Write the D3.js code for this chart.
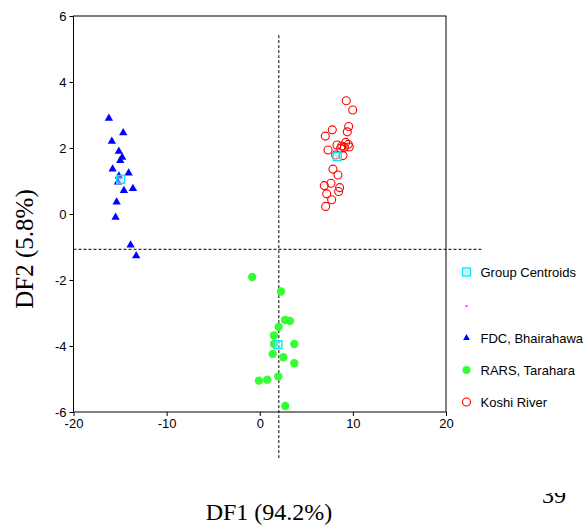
<!doctype html>
<html lang="en">
<head>
<meta charset="UTF-8">
<title>DF1 vs DF2</title>
<style>
    body { margin: 0; background: #fff; }
    svg { display: block; }
    .tick text { font-family: "Liberation Sans", Arial, sans-serif; font-size: 13px; fill: #000; }
    .ttl { font-family: "Liberation Serif", "Times New Roman", serif; font-size: 24px; fill: #000; }
    .leg { font-family: "Liberation Sans", Arial, sans-serif; font-size: 13px; fill: #000; }
</style>
</head>
<body>
<svg id="chart" width="588" height="526"></svg>
<script src="https://cdn.jsdelivr.net/npm/d3@7/dist/d3.min.js"></script>
<script>
// discriminant scores: [DF1, DF2]
var fdc = [
    [-16.2, 2.90], [-14.66, 2.46], [-15.88, 2.20], [-15.13, 1.90], [-14.77, 1.72],
    [-14.98, 1.62], [-15.80, 1.36], [-14.08, 1.24], [-15.12, 1.15], [-15.23, 0.97],
    [-14.59, 0.71], [-13.62, 0.77], [-15.37, 0.36], [-15.48, -0.10], [-13.87, -0.94],
    [-13.27, -1.27]
]
var rars = [
    [-0.81, -1.91], [2.28, -2.35], [2.71, -3.21], [3.24, -3.24], [2.03, -3.42],
    [1.53, -3.68], [1.53, -3.94], [3.71, -3.94], [1.39, -4.24], [2.52, -4.34],
    [3.71, -4.52], [1.99, -4.92], [0.81, -5.02], [-0.09, -5.05], [2.74, -5.82]
]
var koshi = [
    [9.29, 3.43], [9.98, 3.15], [9.55, 2.65], [7.79, 2.55], [9.40, 2.49],
    [7.04, 2.36], [9.23, 2.17], [8.29, 2.09], [8.80, 2.06], [9.51, 2.11],
    [9.61, 2.03], [8.69, 1.99], [9.08, 2.02], [7.33, 1.94], [8.15, 1.79],
    [8.94, 1.77], [7.86, 1.36], [8.40, 1.18], [6.93, 0.86], [7.65, 0.93],
    [8.58, 0.80], [8.47, 0.68], [7.19, 0.61], [7.72, 0.43], [7.08, 0.23]
]
var centroids = [[-14.94, 1.05], [1.95, -3.96], [8.32, 1.74]]

var xTicks = [-20, -10, 0, 10, 20]
var yTicks = [-6, -4, -2, 0, 2, 4, 6]
var legendLabels = ['Group Centroids', '', 'FDC, Bhairahawa', 'RARS, Tarahara', 'Koshi River']

// cut lines (territory borders)
var vLine = { x: 2.05, y0: 5.42, y1: -7.4 }
var hLine = { y: -1.07, x0: -20, x1: 23.8 }

var svg = d3.select('#chart')

var x = d3.scaleLinear().domain([-20, 20]).range([73.5, 446])
var y = d3.scaleLinear().domain([-6, 6]).range([412, 16])

// plain hyphen, like the original (d3 uses a unicode minus)
var fmt = function(d) { return String(d) }

// frame
svg.append('rect')
    .attr('x', x(-20)).attr('y', y(6))
    .attr('width', x(20) - x(-20)).attr('height', y(-6) - y(6))
    .attr('fill', 'none').attr('stroke', '#000').attr('stroke-width', 1)

svg.append('g')
    .attr('transform', 'translate(0,' + y(-6) + ')')
    .call(d3.axisBottom(x).tickValues(xTicks).tickSize(4).tickPadding(3).tickFormat(fmt))
    .call(function(g) { g.select('.domain').remove() })

svg.append('g')
    .attr('transform', 'translate(' + x(-20) + ',0)')
    .call(d3.axisLeft(y).tickValues(yTicks).tickSize(4).tickPadding(3).tickFormat(fmt))
    .call(function(g) { g.select('.domain').remove() })

// dashed cut lines
svg.append('line')
    .attr('x1', x(vLine.x)).attr('x2', x(vLine.x))
    .attr('y1', y(vLine.y0)).attr('y2', y(vLine.y1))
    .attr('stroke', '#000').attr('stroke-dasharray', '3,2')
svg.append('line')
    .attr('x1', x(hLine.x0)).attr('x2', x(hLine.x1))
    .attr('y1', y(hLine.y)).attr('y2', y(hLine.y))
    .attr('stroke', '#000').attr('stroke-dasharray', '3,2')

var tri = d3.symbol().type(d3.symbolTriangle).size(30)

svg.append('g').selectAll('path')
    .data(fdc).enter().append('path')
    .attr('d', tri)
    .attr('transform', function(d) { return 'translate(' + x(d[0]) + ',' + y(d[1]) + ')' })
    .attr('fill', '#0000ff')

svg.append('g').selectAll('circle')
    .data(rars).enter().append('circle')
    .attr('cx', function(d) { return x(d[0]) })
    .attr('cy', function(d) { return y(d[1]) })
    .attr('r', 4.2)
    .attr('fill', '#33ff33')

svg.append('g').selectAll('circle')
    .data(koshi).enter().append('circle')
    .attr('cx', function(d) { return x(d[0]) })
    .attr('cy', function(d) { return y(d[1]) })
    .attr('r', 4)
    .attr('fill', 'none').attr('stroke', '#ff0000').attr('stroke-width', 1.1)

function centroidMark(g, s) {
    g.append('rect')
        .attr('x', -s / 2).attr('y', -s / 2).attr('width', s).attr('height', s)
        .attr('fill', '#ccffff').attr('fill-opacity', 0.4)
        .attr('stroke', '#00e5ff').attr('stroke-width', 1.3)
    g.append('path')
        .attr('d', 'M' + (-s / 2) + ',' + (-s / 2) + 'L' + (s / 2) + ',' + (s / 2) +
                   'M' + (s / 2) + ',' + (-s / 2) + 'L' + (-s / 2) + ',' + (s / 2))
        .attr('stroke', '#66ddff').attr('stroke-width', 0.8)
}

svg.append('g').selectAll('g')
    .data(centroids).enter().append('g')
    .attr('transform', function(d) { return 'translate(' + x(d[0]) + ',' + y(d[1]) + ')' })
    .each(function() { centroidMark(d3.select(this), 8) })

// legend
var legY = [272, 306, 338, 370, 402]
var leg = svg.append('g')
legendLabels.forEach(function(t, i) {
    var g = leg.append('g').attr('transform', 'translate(466.5,' + legY[i] + ')')
    if (i === 0) centroidMark(g, 8)
    if (i === 1) g.append('circle').attr('r', 1).attr('fill', '#ff00ff')
    if (i === 2) g.append('path').attr('d', d3.symbol().type(d3.symbolTriangle).size(20)).attr('fill', '#0000ff')
    if (i === 3) g.append('circle').attr('r', 4).attr('fill', '#33ff33')
    if (i === 4) g.append('circle').attr('r', 4).attr('fill', 'none').attr('stroke', '#ff0000').attr('stroke-width', 1.1)
    g.append('text').attr('class', 'leg').attr('x', 14).attr('dy', '0.35em').text(t)
})

// axis titles
svg.append('text').attr('class', 'ttl')
    .attr('x', 269).attr('y', 520).attr('text-anchor', 'middle')
    .text('DF1 (94.2%)')
svg.append('text').attr('class', 'ttl')
    .style('font-size', '25px')
    .attr('transform', 'translate(33,249) rotate(-90)').attr('text-anchor', 'middle')
    .text('DF2 (5.8%)')

// page number, cut at the top
svg.append('clipPath').attr('id', 'pg')
    .append('rect').attr('x', 500).attr('y', 493).attr('width', 88).attr('height', 33)
svg.append('text').attr('class', 'ttl')
    .attr('clip-path', 'url(#pg)')
    .attr('x', 554).attr('y', 503).attr('text-anchor', 'middle')
    .text('39')
</script>
</body>
</html>
